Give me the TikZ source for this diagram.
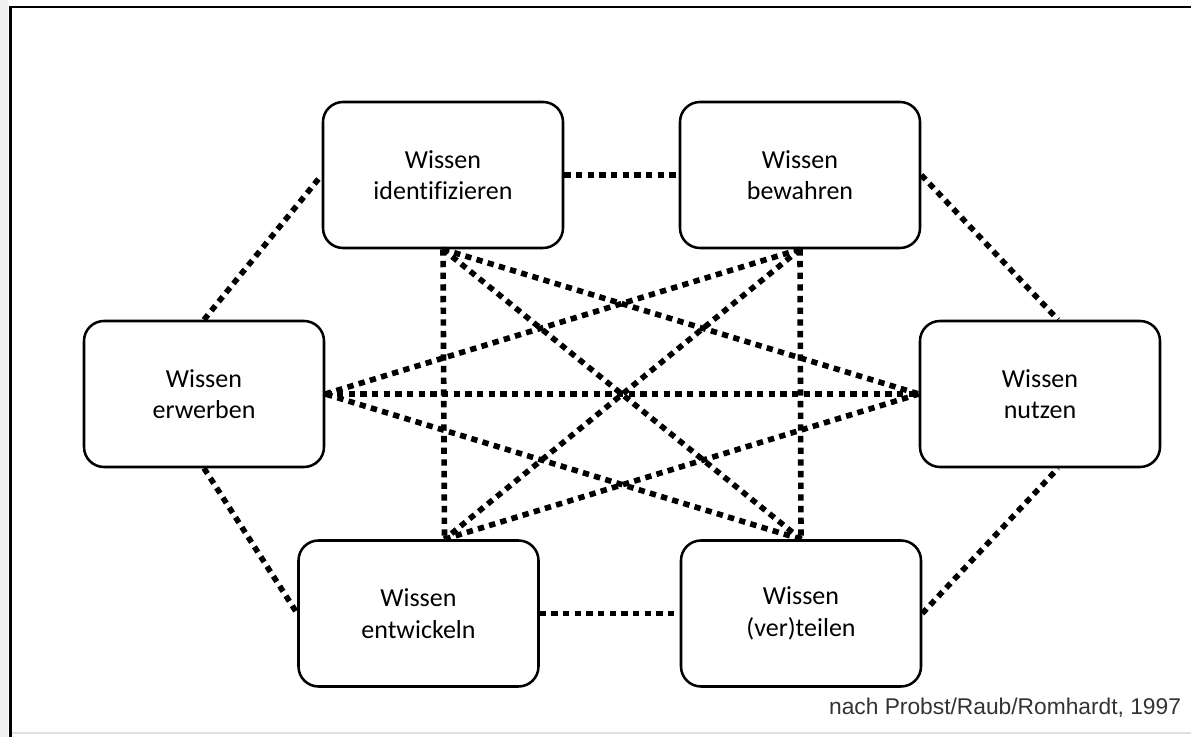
\documentclass[tikz,border=0pt]{standalone}
\usepackage{fontspec}
\setmainfont{Carlito}[Ligatures=CommonOff]
\newfontfamily\notefont{Liberation Sans}
\usepackage{tikz}

\tikzset{
  wbox/.style = {rectangle,
      draw = black,
      line width = 1.8pt,
      rounded corners = 0.5cm,
      fill = white,
      align = center,
      font = \fontsize{18.5}{22.4}\selectfont,
      minimum width = 6cm,
      minimum height = 3.65cm},
  dotline/.style = {line width = 4pt,
      dash pattern = on 4.5pt off 3.8pt}
}

\begin{document}
\begin{tikzpicture}
  \useasboundingbox (0,0) rectangle (29.775,18.425);

  % frame of the slide
  \fill [gray!12] (0,0) rectangle (0.2,18.425);
  \draw [gray!25, line width = 1pt] (0.26,0.1) -- (29.775,0.1);
  \draw [line width = 2pt] (0.26,0) -- (0.26,18.25) -- (29.775,18.25);

  % the six building blocks
  \node[wbox] (ident) at (11.075,14.05) {Wissen\\identifizieren};
  \node[wbox] (bew) at (20.0,14.05) {Wissen\\bewahren};
  \node[wbox] (erw) at (5.1,8.575) {Wissen\\erwerben};
  \node[wbox] (nutz) at (26.0,8.575) {Wissen\\nutzen};
  \node[wbox] (entw) at (10.4625,3.0875) {Wissen\\entwickeln};
  \node[wbox] (teil) at (20.025,3.0875) {Wissen\\(ver)teilen};

  \coordinate (entwtop) at ([xshift=0.65cm]entw.north);
  \coordinate (nutztop) at ([xshift=0.45cm]nutz.north);
  \coordinate (nutzbot) at ([xshift=0.45cm]nutz.south);

  % outer ring
  \draw [dotline] (erw.north) -- (ident.west);
  \draw [dotline] (ident.east) -- (bew.west);
  \draw [dotline] (bew.east) -- (nutztop);
  \draw [dotline] (erw.south) -- (entw.west);
  \draw [dotline] (entw.east) -- (teil.west);
  \draw [dotline] (teil.east) -- (nutzbot);

  % inner net
  \draw [dotline] (ident.south) -- (entwtop);
  \draw [dotline] (ident.south) -- (teil.north);
  \draw [dotline] (ident.south) -- (nutz.west);
  \draw [dotline] (bew.south) -- (teil.north);
  \draw [dotline] (bew.south) -- (entwtop);
  \draw [dotline] (bew.south) -- (erw.east);
  \draw [dotline] (entwtop) -- (nutz.west);
  \draw [dotline] (teil.north) -- (erw.east);
  \draw [dotline] (erw.east) -- (nutz.west);

  \node[anchor = east,
      font = \notefont\fontsize{16.2}{19}\selectfont,
      text = black!80] (quelle) at (29.65,0.72) {nach Probst/Raub/Romhardt, 1997};
\end{tikzpicture}
\end{document}
